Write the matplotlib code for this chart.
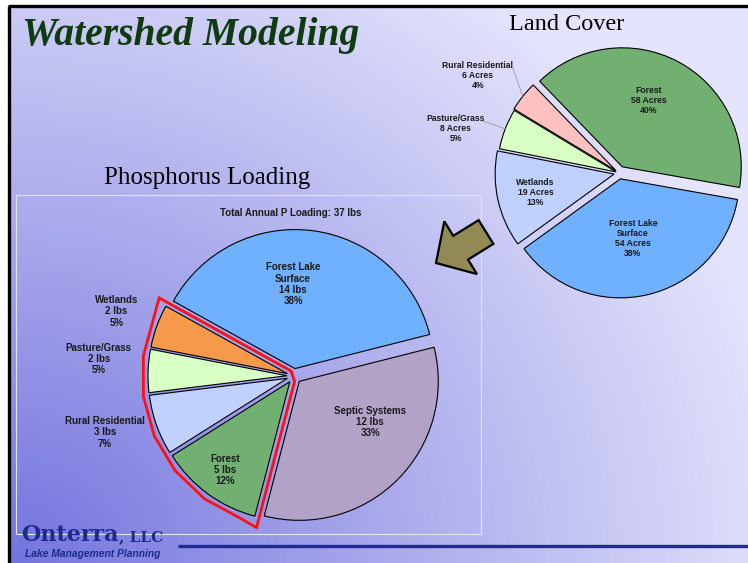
import matplotlib
matplotlib.use('Agg')
import matplotlib.pyplot as plt
import numpy as np
from matplotlib.patches import FancyArrow, Rectangle, Polygon

W, H = 748, 563

# ===== DATA =====
lc_names = ["Forest", "Forest Lake\nSurface", "Wetlands", "Pasture/Grass", "Rural Residential"]
lc_acres = [58, 54, 19, 8, 6]
lc_pct = [40, 38, 13, 5, 4]
lc_colors = ['#72b072', '#6fb0ff', '#c0d0ff', '#d8ffc4', '#ffc0c0']

p_names = ["Forest Lake\nSurface", "Septic Systems", "Forest", "Rural Residential", "Pasture/Grass", "Wetlands"]
p_lbs = [14, 12, 5, 3, 2, 2]
p_pct = [38, 33, 12, 7, 5, 5]
p_colors = ['#6fb0ff', '#b2a2c8', '#72b072', '#c0d0ff', '#d8ffc4', '#f59a4a']
p_total = 37

# ===== LAYOUT (pixels, y up) =====
lc_c = (619, 390); lc_r = 119; lc_start = 134
lc_explode = [7, 6, 5, 3, 4]
lc_lab_f = [0.66, 0.56, 0.72, 1.42, 1.44]
lc_lab_da = [6, -1, 1, 6, 4]

p_c = (294, 187); p_r = 139; p_start = 151
p_explode = [7.5, 7.5, 7, 7, 7, 7]
p_lab_f = [0.66, 0.64, 0.84, 1.42, 1.41, 1.36]
p_lab_da = [8, 14, 0, -3, -3, 0]

LBL = dict(family='Liberation Sans', fontweight='bold', color='#1a1a1a',
           ha='center', va='center', multialignment='center', zorder=5)


def mids(sizes, start):
    tot = float(sum(sizes))
    out, a = [], start
    for s in sizes:
        d = 360 * s / tot
        out.append(a - d / 2)
        a -= d
    return out


def unit(a):
    return np.array([np.cos(np.radians(a)), np.sin(np.radians(a))])


fig = plt.figure(figsize=(W / 100, H / 100), dpi=100, facecolor='white')
ax = fig.add_axes([0, 0, 1, 1])

# background gradient (dark in lower-left)
yy, xx = np.mgrid[0:H, 0:W]
t = np.clip(1 - np.hypot(xx / 800, yy / 720), 0, 1)
light = np.array([228, 228, 252]) / 255
dark = np.array([116, 116, 222]) / 255
img = light + (dark - light) * t[..., None]
ax.imshow(img, extent=(11, W, 0, H - 7), origin='lower', zorder=0, aspect='auto')
ax.plot([9.5, 9.5], [0, H - 5.5], color='black', lw=2.4, zorder=6, solid_capstyle='butt')
ax.plot([8.3, W], [H - 5.5, H - 5.5], color='black', lw=2.4, zorder=6, solid_capstyle='butt')

# titles
ax.text(22, H - 45, "Watershed Modeling", family='Liberation Serif', fontsize=28.5,
        fontweight='bold', style='italic', color='#0f3c0f', va='baseline', zorder=5)
ax.text(567, H - 25, "Land Cover", family='Liberation Serif', fontsize=17.5,
        ha='center', va='center', color='black', zorder=5)
ax.text(207, H - 178, "Phosphorus Loading", family='Liberation Serif', fontsize=18,
        ha='center', va='center', color='black', zorder=5)

# plot area frame of phosphorus chart
ax.add_patch(Rectangle((16, H - 534), 465, 339, fill=False, edgecolor='#e4e4ee', lw=0.8, zorder=1))
ax.text(291, H - 213, f"Total Annual P Loading: {p_total} lbs", fontsize=7, **LBL)

# ----- Land cover pie -----
ax.pie(lc_acres, colors=lc_colors, startangle=lc_start, counterclock=False,
       explode=lc_explode, radius=lc_r, center=lc_c,
       wedgeprops=dict(edgecolor='black', linewidth=0.8, zorder=2))
lc_m = mids(lc_acres, lc_start)
for i, (n, v, p) in enumerate(zip(lc_names, lc_acres, lc_pct)):
    pos = np.array(lc_c) + lc_lab_f[i] * lc_r * unit(lc_m[i] + lc_lab_da[i])
    ax.text(pos[0], pos[1], f"{n}\n{v} Acres\n{p}%", fontsize=6.2, linespacing=1.15, **LBL)
    if lc_lab_f[i] > 1:
        edge = np.array(lc_c) + (lc_r + lc_explode[i]) * unit(lc_m[i])
        start = pos + np.array([len(n) * 2.05, 8])
        ax.plot([start[0], edge[0]], [start[1], edge[1]], color='#9a9a9a', lw=0.6, zorder=4)

# ----- Phosphorus pie -----
ax.pie(p_pct, colors=p_colors, startangle=p_start, counterclock=False,
       explode=p_explode, radius=p_r, center=p_c,
       wedgeprops=dict(edgecolor='black', linewidth=0.8, zorder=2))
p_m = mids(p_pct, p_start)
for i, (n, v, p) in enumerate(zip(p_names, p_lbs, p_pct)):
    pos = np.array(p_c) + p_lab_f[i] * p_r * unit(p_m[i] + p_lab_da[i])
    ax.text(pos[0], pos[1], f"{n}\n{v} lbs\n{p}%", fontsize=7, linespacing=1.15, **LBL)

# red outline around the land-derived sources
c = np.array(p_c, dtype=float)
apex = [c + e * unit(m) for e, m in zip(p_explode, p_m)]
a_top = p_start
a_bot = p_start - 360 * (p_pct[0] + p_pct[1]) / 100
top_in = (apex[0] + apex[-1]) / 2
bot_in = (apex[1] + apex[2]) / 2
pts = [top_in, top_in + (p_r + 12) * unit(a_top)]
for a in np.linspace(a_top + 6, a_bot + 360 - 6, 7):
    pts.append(c + (p_r + 13) * unit(a))
pts += [bot_in + (p_r + 12) * unit(a_bot), bot_in]
ax.add_patch(Polygon(np.array(pts), closed=True, fill=False, edgecolor='#ff1010', lw=2.0, zorder=4,
                     joinstyle='miter'))

# arrow between the charts
ax.add_patch(FancyArrow(486, H - 232, -50, -31, width=28, head_width=62, head_length=29,
                        length_includes_head=True, facecolor='#918a55', edgecolor='black',
                        lw=1.6, zorder=5))

# logo
navy = '#1c2a8c'
ax.set_xlim(0, W); ax.set_ylim(0, H); ax.axis('off')
t1 = ax.text(21, 22, "Onterra", family='DejaVu Serif', fontsize=16, fontweight='bold',
             color=navy, va='baseline', zorder=5)
r = fig.canvas.get_renderer()
bb = t1.get_window_extent(r)
ax.text(bb.x1 + 1, 22, ", LLC", family='DejaVu Serif', fontsize=11, fontweight='bold',
        color=navy, va='baseline', zorder=5)
ax.text(25, 9, "Lake Management Planning", family='Liberation Sans', fontsize=7.4,
        fontweight='bold', style='italic', color=navy, va='center', zorder=5)
ax.plot([178, W], [17, 17], color='#1f2a96', lw=2.4, zorder=5, solid_capstyle='butt')

ax.set_xlim(0, W); ax.set_ylim(0, H)
fig.savefig('out.png', dpi=100, facecolor='white')
